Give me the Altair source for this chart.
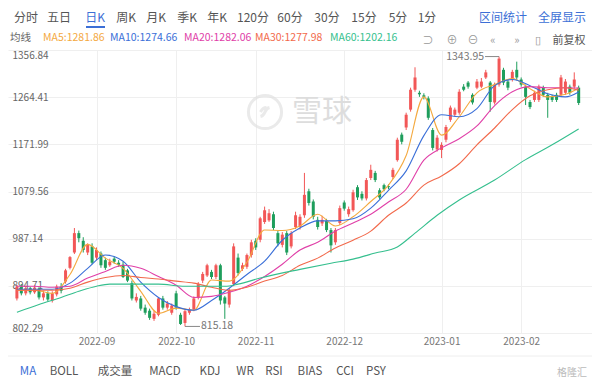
import altair as alt
import pandas as pd

FONT = "Noto Sans CJK SC"

# ---------------- candle data ----------------
opens = [870, 893, 880, 890, 882, 889, 872, 880, 866, 878, 893, 903, 930, 960, 998, 983, 960, 972, 950, 958,
         945, 935, 948, 940, 936, 925, 900, 866, 870, 852, 846, 830, 838, 870, 852, 842, 880, 838, 822, 842,
         848, 872, 905, 915, 922, 912, 935, 872, 858, 898, 950, 928, 932, 955, 983, 985, 1020, 1023, 1035, 998,
         975, 998, 972, 1010, 1010, 1033, 1080, 1060, 1024, 1017, 1022, 1004, 980, 1018, 1058, 1035, 1043, 1088, 1075, 1066,
         1106, 1116, 1082, 1092, 1090, 1108, 1141, 1191, 1205, 1240, 1279, 1273, 1268, 1262, 1200, 1162, 1161, 1181, 1220, 1230,
         1234, 1285, 1293, 1269, 1283, 1285, 1303, 1293, 1254, 1289, 1318, 1295, 1299, 1318, 1299, 1285, 1255, 1259, 1259, 1283,
         1269, 1265, 1269, 1269, 1273, 1285, 1285, 1283]
highs = [896, 898, 895, 893, 896, 892, 885, 884, 884, 897, 900, 928, 953, 1008, 1003, 990, 978, 978, 970, 962,
         950, 948, 952, 945, 942, 928, 905, 880, 875, 858, 850, 845, 872, 875, 865, 860, 885, 842, 850, 852,
         874, 902, 922, 938, 926, 938, 938, 875, 890, 978, 958, 940, 958, 985, 988, 1030, 1050, 1045, 1040, 1002,
         1000, 1002, 1002, 1040, 1035, 1116, 1085, 1064, 1030, 1032, 1026, 1008, 1008, 1052, 1062, 1050, 1083, 1092, 1080, 1106,
         1132, 1120, 1086, 1095, 1094, 1126, 1185, 1195, 1234, 1283, 1323, 1277, 1272, 1266, 1204, 1190, 1176, 1210, 1248, 1244,
         1280, 1290, 1296, 1272, 1300, 1302, 1318, 1296, 1293, 1343.95, 1322, 1300, 1318, 1334, 1303, 1289, 1259, 1277, 1289, 1287,
         1273, 1269, 1273, 1308, 1300, 1289, 1313, 1287]
lows = [866, 876, 876, 878, 879, 868, 866, 864, 862, 874, 880, 899, 927, 957, 980, 960, 955, 937, 945, 930,
        926, 932, 938, 932, 910, 902, 866, 862, 846, 838, 828, 826, 835, 848, 848, 838, 848, 818, 815.18, 838,
        845, 868, 900, 912, 908, 908, 858, 830, 852, 894, 915, 924, 928, 950, 965, 980, 1016, 1020, 1004, 972,
        970, 955, 968, 1006, 1005, 1028, 1052, 1025, 1005, 1012, 1000, 960, 975, 1014, 1042, 1030, 1040, 1063, 1062, 1062,
        1102, 1098, 1064, 1080, 1084, 1104, 1138, 1172, 1200, 1236, 1275, 1265, 1260, 1220, 1160, 1158, 1145, 1176, 1216, 1226,
        1230, 1276, 1281, 1250, 1280, 1282, 1300, 1236, 1250, 1285, 1288, 1278, 1295, 1298, 1285, 1249, 1241, 1255, 1255, 1265,
        1224, 1255, 1255, 1265, 1269, 1269, 1281, 1249]
closes = [893, 880, 890, 882, 891, 872, 880, 868, 880, 893, 885, 925, 951, 998, 988, 965, 975, 940, 965, 935,
          930, 942, 942, 936, 912, 905, 870, 873, 850, 842, 832, 840, 870, 852, 860, 856, 852, 820, 845, 848,
          870, 898, 918, 935, 912, 935, 866, 860, 886, 972, 920, 935, 955, 980, 970, 1027, 1043, 1037, 1008, 978,
          995, 960, 998, 1033, 1030, 1073, 1057, 1030, 1010, 1024, 1004, 974, 1004, 1047, 1046, 1045, 1078, 1068, 1066, 1102,
          1122, 1102, 1068, 1084, 1088, 1122, 1181, 1177, 1230, 1279, 1303, 1270, 1265, 1224, 1165, 1185, 1171, 1206, 1244, 1240,
          1275, 1279, 1285, 1254, 1295, 1295, 1313, 1255, 1289, 1340, 1293, 1283, 1314, 1303, 1289, 1265, 1245, 1273, 1285, 1269,
          1259, 1259, 1259, 1303, 1295, 1273, 1299, 1253]

# ---------------- moving averages ----------------
ma_idx = [0, 4, 8, 12, 16, 20, 24, 28, 32, 36, 40, 44, 48, 52, 56, 60, 64, 68, 72, 76,
          80, 84, 88, 92, 96, 100, 104, 108, 112, 116, 120, 124, 127]
ma5 = [886, 886, 880, 917, 976, 949, 929, 884, 841, 851, 847, 906, 904, 941, 1004, 1003, 1012, 1035, 1012, 1030,
       1060, 1092, 1150, 1265, 1190, 1226, 1273, 1289, 1301, 1281, 1265, 1270, 1281.86]
ma10 = [888, 888, 888, 900, 929, 955, 943, 902, 872, 854, 847, 866, 890, 917, 943, 984, 1008, 1022, 1022, 1026,
        1047, 1082, 1120, 1189, 1230, 1226, 1242, 1287, 1299, 1287, 1271, 1265, 1274.66]
ma20 = [894, 894, 892, 894, 910, 923, 935, 929, 913, 896, 872, 874, 882, 894, 913, 937, 965, 980, 1002, 1018,
        1035, 1059, 1084, 1141, 1165, 1183, 1208, 1248, 1275, 1285, 1283, 1283, 1282.06]
ma30 = [886, 886, 886, 890, 902, 911, 915, 911, 908, 904, 900, 892, 886, 892, 904, 915, 935, 949, 969, 984,
        1002, 1033, 1057, 1092, 1110, 1134, 1171, 1204, 1240, 1267, 1279, 1283, 1277.98]
ma60_idx = [0, 5, 10, 14, 18, 21, 26, 32, 38, 47, 50, 55, 64, 71, 76, 81, 86, 90, 95, 100, 108, 115, 121, 127]
ma60 = [843, 858, 872, 884, 894, 898, 898, 898, 894, 894, 898, 910, 927, 939, 947, 959, 971, 998, 1033, 1063,
        1102, 1142, 1171, 1202.16]

ma_names = ["MA5", "MA10", "MA20", "MA30", "MA60"]
ma_colors = ["#F4A93F", "#3A6FD8", "#E040A8", "#F2694B", "#35BF8E"]

# ---------------- axes ----------------
y_ticks = [802.29, 894.71, 987.14, 1079.56, 1171.99, 1264.41, 1356.84]
month_labels = ["2022-09", "2022-10", "2022-11", "2022-12", "2023-01", "2023-02"]
month_idx = [18, 36, 54, 74, 96, 114]

RED = "#F25757"
GREEN = "#1E9E5C"

n = len(opens)
df = pd.DataFrame({"i": list(range(n)), "open": opens, "high": highs, "low": lows, "close": closes})
df["dir"] = ["up" if c >= o else "down" for o, c in zip(opens, closes)]

xscale = alt.Scale(domain=[-0.88, 128.88], nice=False, zero=False)
yscale = alt.Scale(domain=[802.29, 1356.84], nice=False, zero=False)
cscale = alt.Scale(domain=["up", "down"], range=[RED, GREEN])

label_expr = "[" + ",".join("'%s'" % m for m in month_labels) + "][indexof([" + \
    ",".join(str(v) for v in month_idx) + "], datum.value)]"

wick = alt.Chart(df).mark_rule(strokeWidth=1).encode(
    x=alt.X("i:Q", scale=xscale, title=None,
            axis=alt.Axis(values=month_idx, labelExpr=label_expr, grid=True, gridColor="#efefef",
                          domain=False, ticks=False, labelColor="#777777", labelFontSize=10,
                          labelPadding=3, labelFont=FONT)),
    y=alt.Y("low:Q", scale=yscale, title=None,
            axis=alt.Axis(values=y_ticks, labelExpr="format(datum.value, '.2f')", grid=True,
                          gridColor="#efefef", domain=False, ticks=False, labelAlign="left",
                          labelPadding=-4, labelFlush=True, labelColor="#666666", labelFontSize=10,
                          labelFont=FONT)),
    y2="high:Q",
    color=alt.Color("dir:N", scale=cscale, legend=None),
)

body = alt.Chart(df).mark_bar(size=3).encode(
    x=alt.X("i:Q", scale=xscale),
    y=alt.Y("open:Q", scale=yscale),
    y2="close:Q",
    color=alt.Color("dir:N", scale=cscale, legend=None),
)

ma_layers = []
for name, col, idxs, vals in [("MA5", ma_colors[0], ma_idx, ma5), ("MA10", ma_colors[1], ma_idx, ma10),
                              ("MA20", ma_colors[2], ma_idx, ma20), ("MA30", ma_colors[3], ma_idx, ma30),
                              ("MA60", ma_colors[4], ma60_idx, ma60)]:
    d = pd.DataFrame({"i": idxs, "v": vals})
    ma_layers.append(alt.Chart(d).mark_line(strokeWidth=1.1, interpolate="monotone", color=col).encode(
        x=alt.X("i:Q", scale=xscale), y=alt.Y("v:Q", scale=yscale)))

imax = max(range(n), key=lambda k: highs[k])
imin = min(range(n), key=lambda k: lows[k])
hi_df = pd.DataFrame({"i": [imax], "v": [highs[imax]], "t": ["%.2f" % highs[imax]]})
lo_df = pd.DataFrame({"i": [imin], "v": [lows[imin]], "t": ["%.2f" % lows[imin]]})

hi_line = alt.Chart(hi_df).mark_rule(color="#888888", strokeWidth=1, x2Offset=-14).encode(
    x=alt.X("i:Q", scale=xscale), x2="i:Q", y=alt.Y("v:Q", scale=yscale))
hi_text = alt.Chart(hi_df).mark_text(align="right", baseline="middle", dx=-15, fontSize=10.5,
                                     color="#777777", font=FONT).encode(
    x=alt.X("i:Q", scale=xscale), y=alt.Y("v:Q", scale=yscale), text="t:N")
lo_line = alt.Chart(lo_df).mark_rule(color="#888888", strokeWidth=1, x2Offset=15).encode(
    x=alt.X("i:Q", scale=xscale), x2="i:Q", y=alt.Y("v:Q", scale=yscale))
lo_text = alt.Chart(lo_df).mark_text(align="left", baseline="middle", dx=16, fontSize=10.5,
                                     color="#777777", font=FONT).encode(
    x=alt.X("i:Q", scale=xscale), y=alt.Y("v:Q", scale=yscale), text="t:N")

dummy = pd.DataFrame({"a": [0]})


def label(text, x, y, color="#555555", size=12, align="center", font=FONT, opacity=1.0):
    # x, y given in page pixels; the view starts at page (8, 50)
    return alt.Chart(dummy).mark_text(text=text, align=align, baseline="middle", fontSize=size,
                                      color=color, font=font, opacity=opacity).encode(
        x=alt.value(x - 8), y=alt.value(y - 50))


BLUE = "#3C6FD6"
deco = []
# toolbar
for t, x in [("分时", 26), ("五日", 59), ("周K", 126), ("月K", 156), ("季K", 187), ("年K", 217),
             ("120分", 253), ("60分", 290), ("30分", 327), ("15分", 364), ("5分", 398), ("1分", 427)]:
    deco.append(label(t, x, 18))
deco.append(label("日K", 95, 18, color=BLUE))
deco.append(label("区间统计", 503, 18, color=BLUE))
deco.append(label("全屏显示", 562, 18, color=BLUE))
deco.append(alt.Chart(dummy).mark_rule(color=BLUE, strokeWidth=2).encode(
    x=alt.value(86 - 8), x2=alt.value(105 - 8), y=alt.value(27 - 50)))

# legend row
deco.append(label("均线", 10, 38, color="#666666", size=10.5, align="left"))
legend_x = [43, 110, 184, 255, 330]
for name, col, vals, x in zip(ma_names, ma_colors, [ma5, ma10, ma20, ma30, ma60], legend_x):
    deco.append(label("%s:%.2f" % (name, vals[-1]), x, 38, color=col, size=10.5, align="left"))
for t, x in [("⊃", 428), ("⊕", 452), ("⊖", 473), ("«", 493), ("»", 517), ("▯", 538)]:
    deco.append(label(t, x, 41, color="#999999", size=11))
deco.append(label("前复权", 569, 41, color="#555555", size=11))

# watermark (logo + name)
deco.append(alt.Chart(dummy).mark_point(shape="circle", size=1100, filled=False, strokeWidth=3,
                                        color="#e2e2e2").encode(x=alt.value(265 - 8), y=alt.value(112 - 50)))
deco.append(alt.Chart(dummy).mark_point(
    shape="M -0.3 0.3 C -0.1 0.25 -0.05 0.1 0 0 C 0.05 -0.1 0.1 -0.25 0.3 -0.3 M -0.3 0 C -0.2 -0.2 0 -0.3 0.1 -0.3",
    size=900, filled=False, strokeWidth=3, color="#e2e2e2").encode(
    x=alt.value(265 - 8), y=alt.value(112 - 50)))
deco.append(label("雪球", 322, 112, color="#dddddd", size=30))

# bottom tabs
deco.append(alt.Chart(dummy).mark_rule(color="#eeeeee", strokeWidth=1).encode(
    x=alt.value(0), x2=alt.value(584), y=alt.value(356 - 50)))
deco.append(label("MA", 28, 372, color=BLUE, size=11.5))
for t, x in [("BOLL", 64), ("成交量", 115), ("MACD", 165), ("KDJ", 210), ("WR", 245), ("RSI", 274),
             ("BIAS", 310), ("CCI", 345), ("PSY", 376)]:
    deco.append(label(t, x, 372, color="#555555", size=11.5))
deco.append(label("格隆汇", 572, 373, color="#bbbbbb", size=10))

chart = alt.layer(wick, body, *ma_layers, hi_line, hi_text, lo_line, lo_text, *deco).properties(
    width=584, height=283,
    autosize=alt.AutoSizeParams(type="none"),
    padding={"left": 0, "top": 42, "right": 0, "bottom": 47},
    background="white",
).configure_view(stroke=None)

chart.save("out.html", embed_options={"renderer": "svg", "actions": False})
